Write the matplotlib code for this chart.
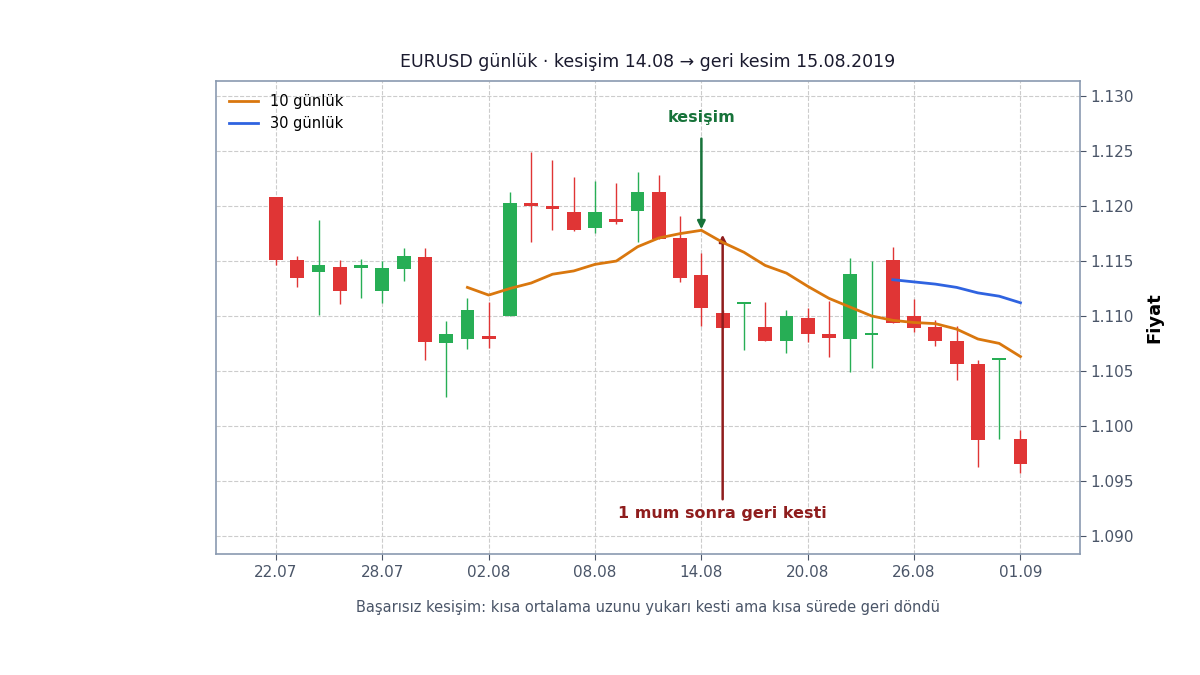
import matplotlib
matplotlib.use("Agg")
import matplotlib.pyplot as plt
import numpy as np

opens  = [1.1208,1.1151,1.1140,1.1145,1.1144,1.1123,1.1143,1.1154,1.1075,1.1079,1.1082,1.1100,1.1203,1.1200,1.1195,1.1180,1.1188,1.1196,1.1213,1.1171,1.1137,1.1103,1.1111,1.1090,1.1077,1.1098,1.1084,1.1079,1.1083,1.1151,1.1100,1.1090,1.1077,1.1056,1.1060,1.0988]
highs  = [1.1208,1.1155,1.1187,1.1151,1.1152,1.1150,1.1162,1.1162,1.1095,1.1116,1.1113,1.1213,1.1249,1.1242,1.1227,1.1223,1.1221,1.1231,1.1228,1.1191,1.1157,1.1105,1.1113,1.1113,1.1105,1.1107,1.1114,1.1153,1.1150,1.1163,1.1115,1.1096,1.1091,1.1060,1.1062,1.0996]
lows   = [1.1146,1.1126,1.1101,1.1111,1.1116,1.1112,1.1132,1.1060,1.1026,1.1070,1.1071,1.1100,1.1167,1.1178,1.1177,1.1176,1.1184,1.1167,1.1170,1.1131,1.1091,1.1089,1.1069,1.1077,1.1066,1.1076,1.1063,1.1049,1.1053,1.1094,1.1085,1.1073,1.1042,1.0962,1.0988,1.0957]
closes = [1.1151,1.1135,1.1146,1.1123,1.1146,1.1144,1.1155,1.1076,1.1084,1.1105,1.1079,1.1203,1.1200,1.1197,1.1178,1.1195,1.1186,1.1213,1.1170,1.1135,1.1107,1.1089,1.1113,1.1077,1.1100,1.1084,1.1080,1.1138,1.1084,1.1094,1.1089,1.1077,1.1056,1.0987,1.1062,1.0965]
ma10 = [None]*9 + [1.1126,1.1119,1.1125,1.1130,1.1138,1.1141,1.1147,1.1150,1.1163,1.1171,1.1175,1.1178,1.1167,1.1158,1.1146,1.1139,1.1127,1.1116,1.1108,1.1100,1.1096,1.1094,1.1093,1.1088,1.1079,1.1075,1.1063]
ma30 = [None]*29 + [1.1133,1.1131,1.1129,1.1126,1.1121,1.1118,1.1112]
tick_idx = [0,5,10,15,20,25,30,35]
tick_labels = ["22.07","28.07","02.08","08.08","14.08","20.08","26.08","01.09"]

fig = plt.figure(figsize=(12,6.75), dpi=100)
ax = fig.add_axes([0.18, 0.179, 0.72, 0.701])
UP, DN = "#27ae55", "#e03535"
for i,(o,h,l,c) in enumerate(zip(opens,highs,lows,closes)):
    col = UP if c >= o else DN
    ax.vlines(i, l, h, color=col, lw=1, zorder=3)
    b = max(abs(c-o), 0.00015)
    ax.bar(i, b, bottom=min(o,c), width=0.65, color=col, zorder=3)
x = np.arange(len(opens))
m10 = np.array([np.nan if v is None else v for v in ma10])
m30 = np.array([np.nan if v is None else v for v in ma30])
ax.plot(x, m10, color="#d9770e", lw=2, label="10 günlük", zorder=4)
ax.plot(x, m30, color="#2f63e0", lw=2, label="30 günlük", zorder=4)

ax.annotate("kesişim", xy=(20, 1.1179), xytext=(20, 1.1281), ha="center", va="center",
            color="#17733a", fontsize=11.5, fontweight="bold",
            arrowprops=dict(arrowstyle="-|>", color="#17733a", lw=1.8, shrinkA=8, shrinkB=0))
ax.annotate("", xy=(21, 1.1174), xytext=(21, 1.0933),
            arrowprops=dict(arrowstyle="-|>", color="#8f1d1d", lw=1.8, shrinkA=0, shrinkB=0))
ax.text(21, 1.0920, "1 mum sonra geri kesti", ha="center", va="center",
        color="#8f1d1d", fontsize=11.5, fontweight="bold")

ax.set_xlim(-2.82, 37.8)
ax.set_ylim(1.0883, 1.1314)
ax.set_xticks(tick_idx)
ax.set_xticklabels(tick_labels)
ax.set_yticks(np.arange(1.090, 1.1301, 0.005))
ax.yaxis.set_major_formatter(matplotlib.ticker.FormatStrFormatter("%.3f"))
ax.yaxis.tick_right()
ax.yaxis.set_label_position("right")
ax.set_ylabel("Fiyat", fontsize=13, fontweight="bold", labelpad=8)
ax.tick_params(colors="#4a5568", labelsize=11, length=4)
ax.grid(True, ls="--", color="#cccccc", lw=0.8)
for s in ax.spines.values():
    s.set_color("#8a9ab0"); s.set_linewidth(1.2)
ax.set_title("EURUSD günlük · kesişim 14.08 → geri kesim 15.08.2019", fontsize=12.5, color="#1a1a2e", pad=10)
ax.legend(loc="upper left", frameon=False, fontsize=10.5)
fig.text(0.54, 0.093, "Başarısız kesişim: kısa ortalama uzunu yukarı kesti ama kısa sürede geri döndü",
         ha="center", color="#4a5568", fontsize=10.5)
fig.savefig("out.png", dpi=100)
